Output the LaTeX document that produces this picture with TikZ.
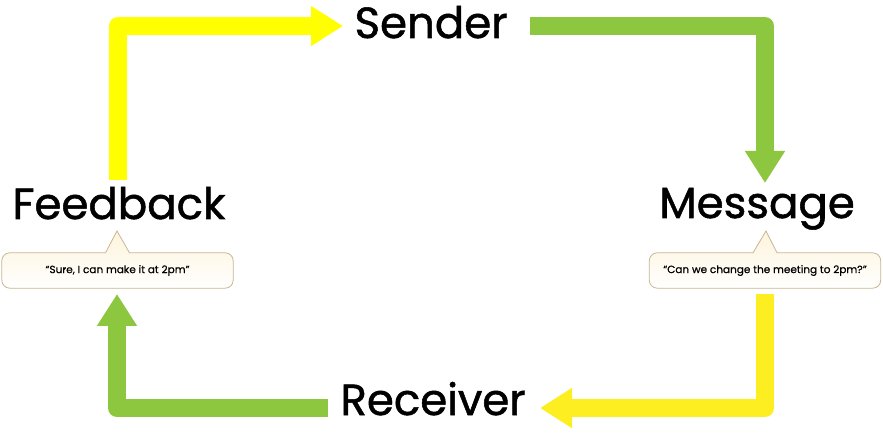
\documentclass[tikz,border=0pt]{standalone}
\usepackage{fontspec}
\setmainfont{Poppins}
\newfontfamily\stagefont[FakeBold=1.2]{Poppins}
\newfontfamily\notefont[FakeBold=0.6]{Poppins}
\usetikzlibrary{arrows.meta,backgrounds}
\definecolor{CycleYellow}{HTML}{FFFF00}
\definecolor{CycleLemon}{HTML}{FCEE21}
\definecolor{CycleGreen}{HTML}{8DC63F}
\definecolor{CycleNote}{HTML}{FEF4DC}
\definecolor{CycleNoteEdge}{HTML}{C6B694}

\begin{document}
\begin{tikzpicture}[x=1pt,y=-1pt,
    stage/.style={font=\stagefont\fontsize{43.5}{46}\selectfont,inner sep=0pt,anchor=base},
    note/.style={font=\notefont\fontsize{10.5}{12}\selectfont,minimum width=231pt,minimum height=35pt,inner sep=0pt},
    bubble/.style={draw=CycleNoteEdge,line width=0.8pt,top color=CycleNote,bottom color=white},
    flow/.style={line width=18pt,line join=round,-{Triangle[width=38pt,length=32pt]}}]
  \useasboundingbox (0,0) rectangle (883,443);
  \node[stage] (sender) at (431,38) {Sender};
  \node[stage] (message) at (757,218) {Message};
  \node[stage] (receiver) at (433,415) {Receiver};
  \node[stage] (feedback) at (119,219) {Feedback};
  \node[note] (msgnote) at (765,270.5) {“Can we change the meeting to 2pm?”};
  \node[note] (fbnote) at (117.5,270.5) {“Sure, I can make it at 2pm”};
  \begin{scope}[on background layer]
    \draw[bubble] (766,231) -- ([xshift=12pt]msgnote.north) [rounded corners=8pt]
      -- (msgnote.north east) -- (msgnote.south east) -- (msgnote.south west)
      -- (msgnote.north west) [sharp corners] -- ([xshift=-12pt]msgnote.north) -- cycle;
    \draw[bubble] (117,231) -- ([xshift=12pt]fbnote.north) [rounded corners=8pt]
      -- (fbnote.north east) -- (fbnote.south east) -- (fbnote.south west)
      -- (fbnote.north west) [sharp corners] -- ([xshift=-12pt]fbnote.north) -- cycle;
  \end{scope}
  \coordinate (fb-out) at (118,180);
  \coordinate (snd-in) at (343,26);
  \coordinate (snd-out) at (530,26);
  \coordinate (msg-in) at (765,183);
  \coordinate (msg-out) at (765,294);
  \coordinate (rcv-in) at (540,408);
  \coordinate (rcv-out) at (328,408);
  \coordinate (fb-in) at (117,294);
  \draw[flow,CycleYellow] (fb-out) |- (snd-in);
  \draw[flow,CycleGreen] (snd-out) -| (msg-in);
  \draw[flow,CycleLemon] (msg-out) |- (rcv-in);
  \draw[flow,CycleGreen] (rcv-out) -| (fb-in);
\end{tikzpicture}
\end{document}
